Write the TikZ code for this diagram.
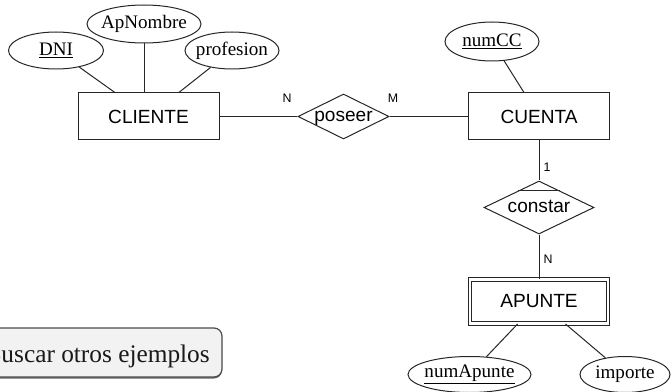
\documentclass[tikz,border=0pt]{standalone}
\usepackage{fontspec}
\setmainfont{Liberation Serif}
\setsansfont{Liberation Sans}
\usetikzlibrary{shapes.geometric,calc}

\begin{document}
\begin{tikzpicture}[x=0.75pt,y=0.75pt,yscale=-1,xscale=1,
  linea/.style={draw=black!85, line width=0.75pt},
  entidad/.style={linea, rectangle, minimum width=105.75pt, minimum height=35.25pt, inner sep=0pt, font=\sffamily\fontsize{14.3}{16}\selectfont},
  entdebil/.style={entidad, double, double distance=2.2pt, minimum width=103.5pt, minimum height=33pt},
  atributo/.style={linea, ellipse, inner xsep=-3pt, inner ysep=0pt, font=\fontsize{14.3}{16}\selectfont},
  relacion/.style={linea, diamond, shape aspect=2, inner sep=0pt, text height=7.5pt, text depth=0pt, font=\sffamily\fontsize{14.3}{16}\selectfont},
  card/.style={inner sep=0pt, font=\sffamily\fontsize{9.3}{11}\selectfont},
  boton/.style={draw=black!70, fill=black!5, line width=0.9pt, rounded corners=6pt}]
\useasboundingbox (0,0) rectangle (671,392);

% Entidades
\node [entidad] (cliente) at (148.5,116.5) {CLIENTE};
\node [entidad] (cuenta) at (539,116.5) {CUENTA};
\node [entdebil] (apunte) at (539,301.5) {APUNTE};

% Relaciones
\node [relacion, minimum width=68.25pt, minimum height=33.75pt] (poseer) at (343.5,116.5) {poseer};
\node [relacion, minimum width=82.5pt, minimum height=39.75pt] (constar) at (539,207.5) {constar};
\draw [linea] ($(constar.north)!0.377!(constar.west)$) -- ($(constar.north)!0.377!(constar.east)$);

% Atributos
\node [atributo, minimum width=71.25pt, minimum height=27.75pt] (dni) at (56,50.5) {\underline{DNI}};
\node [atributo, minimum width=85.5pt, minimum height=28.5pt] (apnombre) at (144,24) {ApNombre};
\node [atributo, minimum width=70.5pt, minimum height=27.75pt] (profesion) at (232,50.5) {profesion};
\node [atributo, minimum width=70.5pt, minimum height=29.25pt] (numcc) at (492,41.5) {\underline{numCC}};
\node [atributo, minimum width=92.25pt, minimum height=27pt] (numapunte) at (469.5,374.5) {\underline{numApunte}};
\node [atributo, minimum width=67.5pt, minimum height=27pt] (importe) at (625,374.5) {importe};

% Lineas
\draw [linea] (dni) -- (cliente);
\draw [linea] (apnombre) -- (apnombre |- cliente.north);
\draw [linea] (profesion) -- (cliente);
\draw [linea] (numcc) -- (cuenta);
\draw [linea] (numapunte) -- (apunte);
\draw [linea] (importe) -- (apunte);
\draw [linea] (cliente) -- (poseer);
\draw [linea] (poseer) -- (cuenta);
\draw [linea] (cuenta) -- (constar);
\draw [linea] (constar) -- (apunte);

% Cardinalidades
\node [card] (cardN) at (287,98.5) {N};
\node [card] (cardM) at (393,98.5) {M};
\node [card] (card1) at (547,167) {1};
\node [card] (cardN2) at (548,259) {N};

% Boton
\fill [black!60, rounded corners=6pt] (-20,330) rectangle (222,378.5);
\draw [boton] (-20,328) rectangle (222,377);
\node [anchor=base east, inner sep=0pt, text=black!90, font=\fontsize{19}{22}\selectfont] (buscar) at (210,362) {Buscar otros ejemplos};
\end{tikzpicture}
\end{document}
